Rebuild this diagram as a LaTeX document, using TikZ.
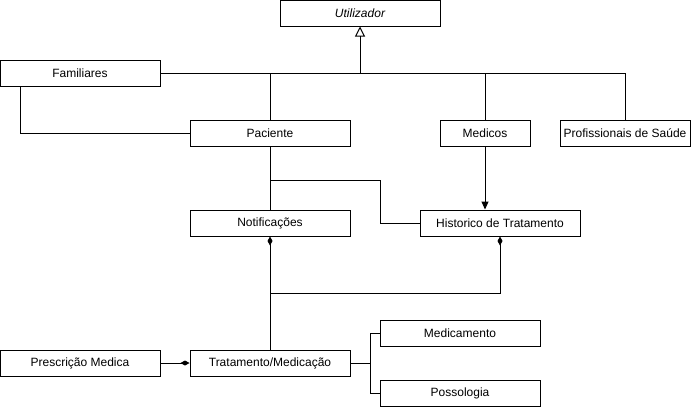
\documentclass[tikz,border=0pt]{standalone}
\usepackage{fontspec}
\setmainfont{Liberation Sans}
\usetikzlibrary{arrows.meta}
\begin{document}
\begin{tikzpicture}[x=1pt,y=-1pt,line width=1pt,
  box/.style={draw,fill=white,minimum width=160pt,minimum height=26pt,inner sep=0pt,font=\fontsize{12}{14}\selectfont},
  gen/.style={-{Triangle[open,length=10pt,width=10pt]}},
  assoc/.style={-{Triangle[length=8pt,width=7pt]}},
  comp/.style={{Diamond[length=9pt,width=5pt]}-}]
\useasboundingbox (0,0) rectangle (692,408);
\node[box,font=\fontsize{12}{14}\selectfont\itshape] (util) at (360,13) {Utilizador};
\node[box] (fam) at (80,73) {Familiares};
\node[box] (pac) at (270,133) {Paciente};
\node[box,minimum width=90pt] (med) at (485,133) {Medicos};
\node[box,minimum width=130pt] (prof) at (625,133) {Profissionais de Saúde};
\node[box] (notif) at (270,223) {Notificações};
\node[box] (hist) at (500,223) {Historico de Tratamento};
\node[box] (presc) at (80,363) {Prescrição Medica};
\node[box] (trat) at (270,363) {Tratamento/Medicação};
\node[box] (medic) at (460,333) {Medicamento};
\node[box] (poss) at (460,393) {Possologia};
\coordinate (j) at (360,73);
\coordinate (famb) at (20,86);
\coordinate (pb) at (270,180);
\coordinate (hk) at (380,223);
\coordinate (dj) at (270,293);
\coordinate (tk) at (370,363);
\draw[gen] (j) -- (util.south);
\draw (fam.east) -- (j);
\draw (pac.north) |- (j);
\draw (med.north) |- (j);
\draw (prof.north) |- (j);
\draw (famb) |- (pac.west);
\draw (pac.south) -- (notif.north);
\draw (pb) -| (hk) -- (hist.west);
\draw[assoc] (med.south) -- (med.south |- hist.north);
\draw[comp] (notif.south) -- (trat.north);
\draw[comp] (hist.south) |- (dj);
\draw[comp] (trat.west) -- (presc.east);
\draw (trat.east) -- (tk) |- (medic.west);
\draw (tk) |- (poss.west);
\end{tikzpicture}
\end{document}
